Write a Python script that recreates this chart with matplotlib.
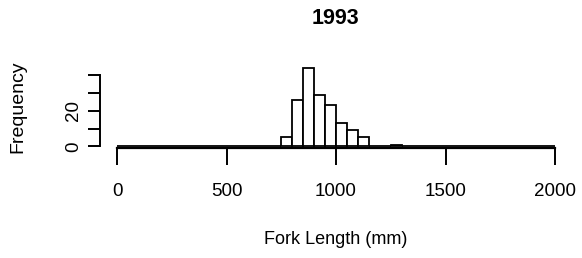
import matplotlib
matplotlib.use("Agg")
import matplotlib.pyplot as plt
import numpy as np

# Histogram of fork lengths, 50 mm bins from 0 to 2000
bin_width = 50
bin_starts = list(range(0, 2000, bin_width))
nonzero_counts = {750: 5, 800: 26, 850: 44, 900: 29, 950: 23,
                  1000: 13, 1050: 9, 1100: 5, 1250: 1}
counts = [nonzero_counts.get(b, 0) for b in bin_starts]

x_ticks = [0, 500, 1000, 1500, 2000]
y_ticks = [0, 10, 20, 30, 40]
y_tick_labels = ["0", "", "20", "", ""]

plt.rcParams['font.family'] = ['Liberation Sans', 'DejaVu Sans']

fig = plt.figure(figsize=(5.82, 2.58), dpi=100, facecolor='white')
ax = fig.add_axes([0.171, 0.4267, 0.8127, 0.3217])

ax.bar(bin_starts, counts, width=bin_width, align='edge',
       facecolor='white', edgecolor='black', linewidth=1.3)

ymax = max(counts)
ax.set_xlim(-0.04 * 2000, 2000 * 1.04)
ax.set_ylim(-0.9, ymax * 1.04)

for side in ['top', 'right']:
    ax.spines[side].set_visible(False)
ax.spines['bottom'].set_bounds(0, 2000)
ax.spines['left'].set_bounds(0, 40)
ax.spines['bottom'].set_linewidth(1.6)
ax.spines['left'].set_linewidth(1.4)

ax.set_xticks(x_ticks)
ax.set_xticklabels([str(t) for t in x_ticks])
ax.tick_params(axis='x', length=12, width=1.4, pad=13, labelsize=13.5)

ax.set_yticks(y_ticks)
ax.set_yticklabels(y_tick_labels, rotation=90, va='center')
ax.tick_params(axis='y', length=8.4, width=1.4, pad=4, labelsize=13.5)

fig.text(0.577, 0.930, "1993", ha='center', va='center',
         fontsize=15.5, fontweight='bold')
fig.text(0.577, 0.070, "Fork Length (mm)", ha='center', va='center',
         fontsize=13)
fig.text(0.031, 0.585, "Frequency", ha='center', va='center',
         rotation=90, fontsize=14)

fig.savefig("out.png", dpi=100, facecolor='white')
